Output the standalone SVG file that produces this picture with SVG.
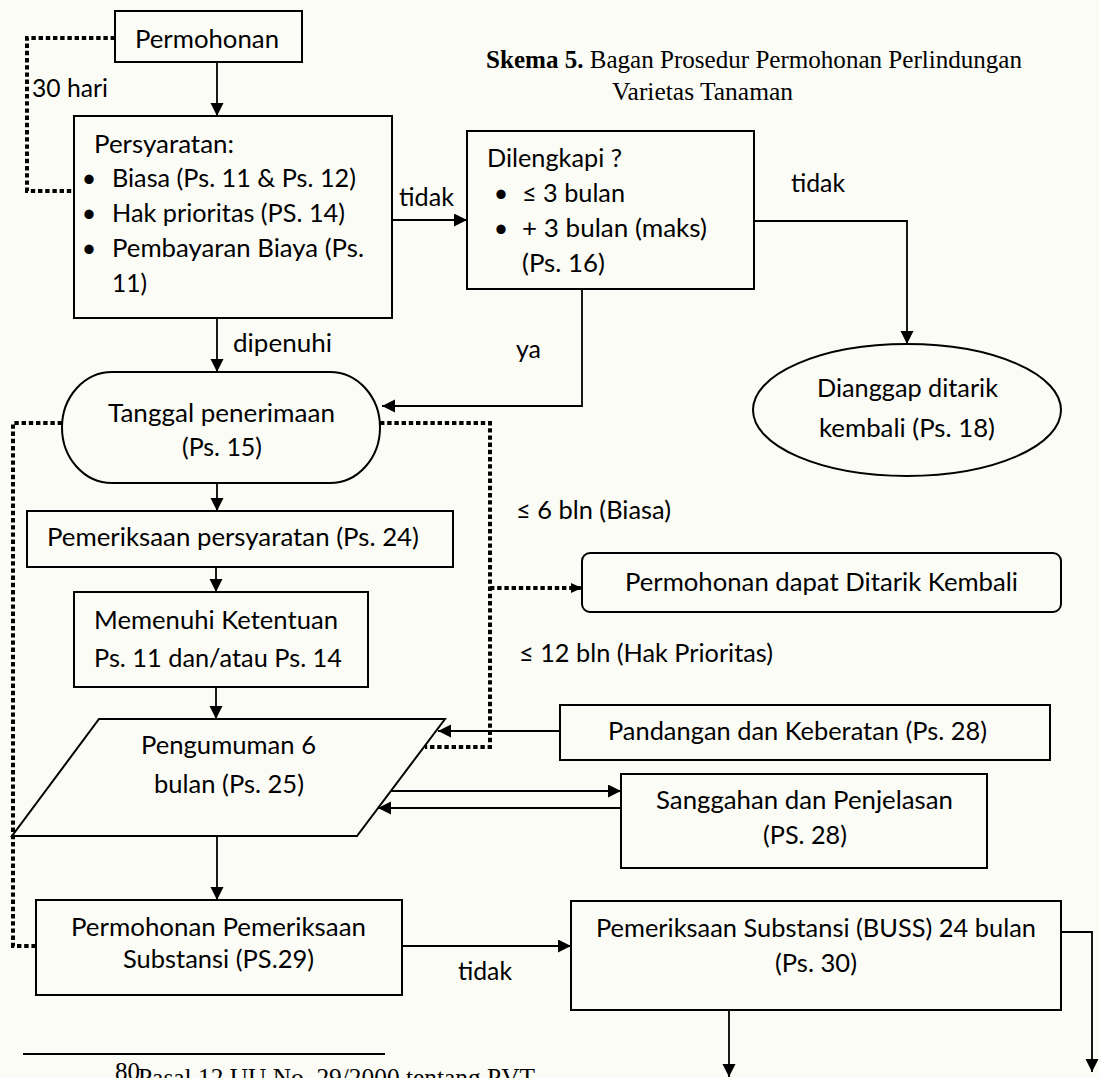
<svg xmlns="http://www.w3.org/2000/svg" width="1099" height="1078" viewBox="0 0 1099 1078">
  <style>
    .bg { fill: #fcfcf6; }
    .box { fill: none; stroke: #000; stroke-width: 2; }
    .t { font-family: Lato, "Liberation Sans", sans-serif; font-size: 25px; fill: #000; }
    .serif { font-family: "Liberation Serif", "DejaVu Serif", serif; font-size: 25px; fill: #000; }
    .line { fill: none; stroke: #000; stroke-width: 1.8; }
    .arrow { fill: none; stroke: #000; stroke-width: 1.8; marker-end: url(#head); }
    .dot { fill: none; stroke: #000; stroke-width: 4; stroke-dasharray: 4.4 2.8; }
    .dotarrow { fill: none; stroke: #000; stroke-width: 4; stroke-dasharray: 4.4 2.8; marker-end: url(#headsmall); }
  </style>
  <defs>
    <marker id="head" markerUnits="userSpaceOnUse" markerWidth="14" markerHeight="14" refX="13" refY="6.5" orient="auto">
      <path d="M0,0 L13,6.5 L0,13 z" fill="#000"/>
    </marker>
    <marker id="headsmall" markerUnits="userSpaceOnUse" markerWidth="12" markerHeight="12" refX="11" refY="5" orient="auto">
      <path d="M0,0 L11,5 L0,10 z" fill="#000"/>
    </marker>
  </defs>

  <rect class="bg" x="0" y="0" width="1099" height="1078"/>

  <!-- caption -->
  <g id="caption">
    <text class="serif" x="486" y="68" textLength="536" lengthAdjust="spacingAndGlyphs"><tspan font-weight="bold">Skema 5.</tspan> Bagan Prosedur Permohonan Perlindungan</text>
    <text class="serif" x="612" y="100" textLength="181" lengthAdjust="spacingAndGlyphs">Varietas Tanaman</text>
  </g>

  <!-- connectors -->
  <g id="connectors">
    <path class="dot" d="M115,38 H27 V191 H74"/>
    <path class="dot" d="M62,423 H13 V946 H36"/>
    <path class="dot" d="M380,423 H490 V747 H425"/>
    <path class="dotarrow" d="M490,588 H582"/>

    <path class="arrow" d="M217,62 V116"/>
    <path class="arrow" d="M392,220 H467"/>
    <path class="arrow" d="M754,221 H907 V344"/>
    <path class="arrow" d="M217,318 V372"/>
    <path class="arrow" d="M582,289 V406 H382"/>
    <path class="arrow" d="M217,483 V511"/>
    <path class="arrow" d="M216,567 V592"/>
    <path class="arrow" d="M216,687 V719"/>
    <path class="arrow" d="M560,731 H438"/>
    <path class="arrow" d="M391,791 H621"/>
    <path class="arrow" d="M621,808 H378"/>
    <path class="arrow" d="M217,836 V900"/>
    <path class="arrow" d="M402,946 H571"/>
    <path class="arrow" d="M729,1010 V1077"/>
    <path class="arrow" d="M1061,932 H1092 V1072"/>

    <text class="t" x="32" y="97" textLength="76" lengthAdjust="spacingAndGlyphs">30 hari</text>
    <text class="t" x="399" y="206" textLength="55" lengthAdjust="spacingAndGlyphs">tidak</text>
    <text class="t" x="791" y="192" textLength="54" lengthAdjust="spacingAndGlyphs">tidak</text>
    <text class="t" x="233" y="352" textLength="99" lengthAdjust="spacingAndGlyphs">dipenuhi</text>
    <text class="t" x="516" y="358" textLength="25" lengthAdjust="spacingAndGlyphs">ya</text>
    <text class="t" x="516" y="519" textLength="155" lengthAdjust="spacingAndGlyphs">≤ 6 bln (Biasa)</text>
    <text class="t" x="519" y="662" textLength="254" lengthAdjust="spacingAndGlyphs">≤ 12 bln (Hak Prioritas)</text>
    <text class="t" x="458" y="980" textLength="54" lengthAdjust="spacingAndGlyphs">tidak</text>
  </g>

  <!-- nodes -->
  <g id="permohonan">
    <rect class="box" x="115" y="11" width="187" height="51"/>
    <text class="t" x="135" y="48" textLength="144" lengthAdjust="spacingAndGlyphs">Permohonan</text>
  </g>

  <g id="persyaratan">
    <rect class="box" x="74" y="116" width="318" height="202"/>
    <text class="t" x="94" y="153" textLength="140" lengthAdjust="spacingAndGlyphs">Persyaratan:</text>
    <text class="t" x="89" y="187" text-anchor="middle">•</text>
    <text class="t" x="89" y="222" text-anchor="middle">•</text>
    <text class="t" x="89" y="257" text-anchor="middle">•</text>
    <text class="t" x="112" y="187" textLength="244" lengthAdjust="spacingAndGlyphs">Biasa (Ps. 11 &amp; Ps. 12)</text>
    <text class="t" x="112" y="222" textLength="233" lengthAdjust="spacingAndGlyphs">Hak prioritas (PS. 14)</text>
    <text class="t" x="112" y="257" textLength="252" lengthAdjust="spacingAndGlyphs">Pembayaran Biaya (Ps.</text>
    <text class="t" x="112" y="292" textLength="35" lengthAdjust="spacingAndGlyphs">11)</text>
  </g>

  <g id="dilengkapi">
    <rect class="box" x="467" y="131" width="287" height="158"/>
    <text class="t" x="487" y="167" textLength="135" lengthAdjust="spacingAndGlyphs">Dilengkapi ?</text>
    <text class="t" x="501" y="202" text-anchor="middle">•</text>
    <text class="t" x="501" y="237" text-anchor="middle">•</text>
    <text class="t" x="522" y="202" textLength="103" lengthAdjust="spacingAndGlyphs">≤ 3 bulan</text>
    <text class="t" x="522" y="237" textLength="185" lengthAdjust="spacingAndGlyphs">+ 3 bulan (maks)</text>
    <text class="t" x="522" y="272" textLength="83" lengthAdjust="spacingAndGlyphs">(Ps. 16)</text>
  </g>

  <g id="dianggap-ditarik">
    <ellipse class="box" cx="907" cy="410" rx="154" ry="66"/>
    <text class="t" x="817" y="397" textLength="181" lengthAdjust="spacingAndGlyphs">Dianggap ditarik</text>
    <text class="t" x="819" y="437" textLength="176" lengthAdjust="spacingAndGlyphs">kembali (Ps. 18)</text>
  </g>

  <g id="tanggal-penerimaan">
    <rect class="box" x="62" y="372" width="318" height="111" rx="50" ry="55.5"/>
    <text class="t" x="108" y="422" textLength="227" lengthAdjust="spacingAndGlyphs">Tanggal penerimaan</text>
    <text class="t" x="182" y="456" textLength="80" lengthAdjust="spacingAndGlyphs">(Ps. 15)</text>
  </g>

  <g id="pemeriksaan-persyaratan">
    <rect class="box" x="27" y="511" width="426" height="56"/>
    <text class="t" x="47" y="546" textLength="372" lengthAdjust="spacingAndGlyphs">Pemeriksaan persyaratan (Ps. 24)</text>
  </g>

  <g id="memenuhi-ketentuan">
    <rect class="box" x="74" y="592" width="294" height="95"/>
    <text class="t" x="94" y="629" textLength="244" lengthAdjust="spacingAndGlyphs">Memenuhi Ketentuan</text>
    <text class="t" x="94" y="667" textLength="248" lengthAdjust="spacingAndGlyphs">Ps. 11 dan/atau Ps. 14</text>
  </g>

  <g id="ditarik-kembali">
    <rect class="box" x="582" y="553" width="479" height="59" rx="8"/>
    <text class="t" x="625" y="591" textLength="393" lengthAdjust="spacingAndGlyphs">Permohonan dapat Ditarik Kembali</text>
  </g>

  <g id="pengumuman">
    <polygon class="box" points="99,719 445,719 357,836 12,836"/>
    <text class="t" x="141" y="754" textLength="175" lengthAdjust="spacingAndGlyphs">Pengumuman 6</text>
    <text class="t" x="154" y="793" textLength="150" lengthAdjust="spacingAndGlyphs">bulan (Ps. 25)</text>
  </g>

  <g id="pandangan">
    <rect class="box" x="560" y="705" width="490" height="55"/>
    <text class="t" x="608" y="740" textLength="379" lengthAdjust="spacingAndGlyphs">Pandangan dan Keberatan (Ps. 28)</text>
  </g>

  <g id="sanggahan">
    <rect class="box" x="621" y="774" width="366" height="94"/>
    <text class="t" x="656" y="809" textLength="297" lengthAdjust="spacingAndGlyphs">Sanggahan dan Penjelasan</text>
    <text class="t" x="763" y="844" textLength="84" lengthAdjust="spacingAndGlyphs">(PS. 28)</text>
  </g>

  <g id="permohonan-pemeriksaan">
    <rect class="box" x="36" y="900" width="366" height="95"/>
    <text class="t" x="71" y="936" textLength="295" lengthAdjust="spacingAndGlyphs">Permohonan Pemeriksaan</text>
    <text class="t" x="123" y="968" textLength="191" lengthAdjust="spacingAndGlyphs">Substansi (PS.29)</text>
  </g>

  <g id="pemeriksaan-substansi">
    <rect class="box" x="571" y="901" width="490" height="109"/>
    <text class="t" x="596" y="937" textLength="440" lengthAdjust="spacingAndGlyphs">Pemeriksaan Substansi (BUSS) 24 bulan</text>
    <text class="t" x="775" y="972" textLength="82" lengthAdjust="spacingAndGlyphs">(Ps. 30)</text>
  </g>

  <!-- footnote rule and first footnote line -->
  <g id="footnote">
    <line x1="23" y1="1054" x2="385" y2="1054" stroke="#000" stroke-width="2"/>
    <text class="serif" x="115" y="1080" font-size="17">80</text>
    <text class="serif" x="138" y="1086" textLength="397" lengthAdjust="spacingAndGlyphs">Pasal 12 UU No. 29/2000 tentang PVT</text>
  </g>
</svg>
